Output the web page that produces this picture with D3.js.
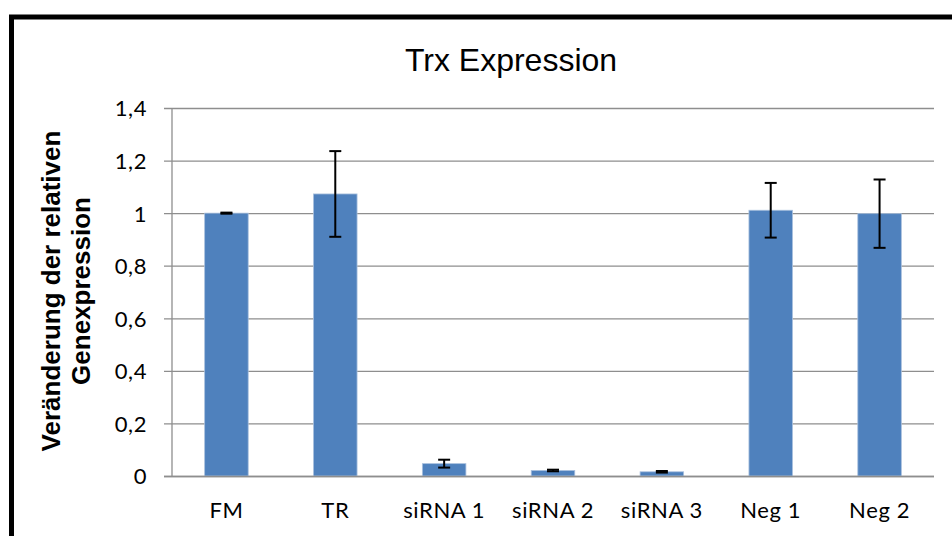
<!DOCTYPE html>
<html>
<head>
<meta charset="utf-8">
<script src="https://cdn.jsdelivr.net/npm/d3@7"></script>
<style>
  html, body { margin: 0; padding: 0; background: #ffffff; }
  svg { display: block; }
</style>
</head>
<body>
<svg id="chart" width="952" height="536"></svg>
<script>
// Relative Trx expression per treatment (mean and error)
const categories = ["FM", "TR", "siRNA 1", "siRNA 2", "siRNA 3", "Neg 1", "Neg 2"];
const means      = [1.000, 1.073, 0.047, 0.021, 0.016, 1.011, 0.998];
const errors     = [0.002, 0.163, 0.015, 0.003, 0.003, 0.104, 0.130];
const yTicks     = [0, 0.2, 0.4, 0.6, 0.8, 1.0, 1.2, 1.4];
const titleText  = "Trx Expression";
const yTitleLines = ["Veränderung der relativen", "Genexpression"];

const svg = d3.select("#chart");
const W = 952, H = 536;

// outer frame (runs past the right and bottom edges)
svg.append("rect")
  .attr("x", 11.5).attr("y", 17)
  .attr("width", W + 40).attr("height", H + 40)
  .attr("fill", "#ffffff")
  .attr("stroke", "#000000")
  .attr("stroke-width", 5);

const plot = { left: 172, right: 934, top: 108, bottom: 476 };

const x = d3.scaleBand()
  .domain(categories)
  .range([plot.left, plot.right])
  .paddingInner(0.6)
  .paddingOuter(0.3);

const y = d3.scaleLinear()
  .domain([0, 1.4])
  .range([plot.bottom, plot.top]);

const fmt = v => String(+v.toFixed(1)).replace(".", ",");
const labelFont = "Lato, 'Open Sans', sans-serif";

// horizontal gridlines, each extended left into a tick mark
const yAxis = d3.axisLeft(y)
  .tickValues(yTicks)
  .tickSize(-(plot.right - plot.left))
  .tickFormat(fmt)
  .tickPadding(0);

const gy = svg.append("g")
  .attr("transform", `translate(${plot.left},0)`)
  .call(yAxis);
gy.select(".domain").remove();
gy.selectAll(".tick line")
  .attr("x1", -8)
  .attr("stroke", "#8e8e8e")
  .attr("stroke-width", 1.3);
gy.selectAll(".tick text")
  .attr("x", -25)
  .attr("dy", "0.36em")
  .attr("fill", "#000000")
  .style("font-family", labelFont)
  .style("font-size", "22px")
  .style("letter-spacing", "0.6px");

// vertical axis line
svg.append("line")
  .attr("x1", plot.left).attr("x2", plot.left)
  .attr("y1", plot.top).attr("y2", plot.bottom)
  .attr("stroke", "#8e8e8e")
  .attr("stroke-width", 1.3);

// bars
svg.append("g").selectAll("rect")
  .data(categories)
  .join("rect")
  .attr("x", d => x(d))
  .attr("width", x.bandwidth())
  .attr("y", (d, i) => y(means[i]))
  .attr("height", (d, i) => y(0) - y(means[i]))
  .attr("fill", "#4f81bd")
  .attr("stroke", "#a9c0de")
  .attr("stroke-width", 0.8);

// category axis
const xAxis = d3.axisBottom(x).tickSize(0).tickPadding(0);
const gx = svg.append("g")
  .attr("transform", `translate(0,${plot.bottom})`)
  .call(xAxis);
gx.select(".domain")
  .attr("d", `M${plot.left - 8},0.5H${plot.right}`)
  .attr("stroke", "#8e8e8e")
  .attr("stroke-width", 1.3);
gx.selectAll(".tick text")
  .attr("y", 42)
  .attr("dy", 0)
  .attr("fill", "#000000")
  .style("font-family", labelFont)
  .style("font-size", "22px")
  .style("letter-spacing", "0.6px");

// error bars
const cap = 6;
const eb = svg.append("g")
  .attr("stroke", "#000000")
  .attr("stroke-width", 2)
  .attr("fill", "none");
categories.forEach((c, i) => {
  const cx = x(c) + x.bandwidth() / 2;
  const hi = y(means[i] + errors[i]);
  const lo = y(means[i] - errors[i]);
  eb.append("line").attr("x1", cx).attr("x2", cx).attr("y1", hi).attr("y2", lo);
  eb.append("line").attr("x1", cx - cap).attr("x2", cx + cap).attr("y1", hi).attr("y2", hi);
  eb.append("line").attr("x1", cx - cap).attr("x2", cx + cap).attr("y1", lo).attr("y2", lo);
});

// chart title
svg.append("text")
  .attr("x", 511)
  .attr("y", 71)
  .attr("text-anchor", "middle")
  .style("font-family", "'Liberation Sans', Arial, sans-serif")
  .style("font-size", "32px")
  .attr("fill", "#000000")
  .text(titleText);

// vertical axis title
const yt = svg.append("text")
  .attr("transform", "translate(0,291) rotate(-90)")
  .attr("text-anchor", "middle")
  .style("font-family", "'Liberation Sans', Arial, sans-serif")
  .style("font-size", "26px")
  .style("font-weight", "bold")
  .attr("fill", "#000000");
yTitleLines.forEach((t, i) => {
  yt.append("tspan")
    .attr("x", 0)
    .attr("y", 60 + i * 30)
    .text(t);
});
</script>
</body>
</html>
